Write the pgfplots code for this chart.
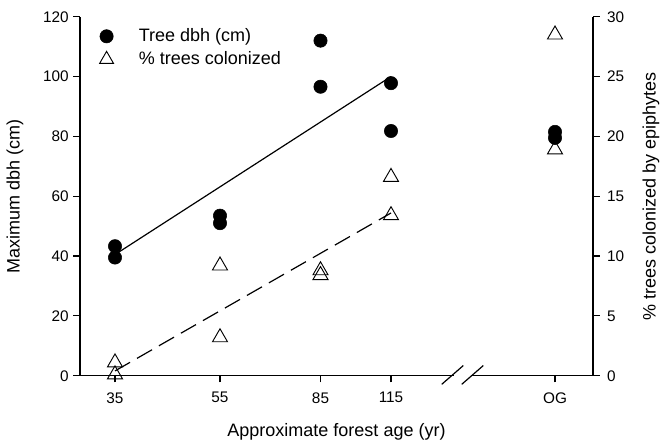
\documentclass[border=0pt]{standalone}
\usepackage{fontspec}
\setmainfont{Liberation Sans}
\usepackage{pgfplots}
\pgfplotsset{compat=1.18}

% x positions of the age classes on the drawn axis (35, 55, 85, 115, OG)
\pgfplotsset{
  base/.style={
    width=384.75pt, height=269.25pt, scale only axis,
    xmin=80, xmax=593,
    clip=false,
    tick align=outside,
    major tick length=5pt,
    every tick/.style={black, line width=0.9pt},
    axis line style={line width=1pt},
    /pgf/number format/assume math mode=true,
    tick label style={font=\fontsize{11.5}{13.8}\selectfont},
    label style={font=\fontsize{13.5}{16.2}\selectfont},
  },
}

\begin{document}
\begin{tikzpicture}
\begin{axis}[base,
  axis x line*=bottom, axis y line*=left,
  ymin=0, ymax=120,
  ytick={0,20,...,120},
  xtick={115,220,320.5,391,555},
  xticklabels={35,55,85,115,OG},
  xticklabel style={yshift=-4pt},
  ylabel={Maximum dbh (cm)},
  ylabel style={at={(axis description cs:-0.127,0.5)}, anchor=center},
  xlabel={Approximate forest age (yr)},
  xlabel style={at={(axis description cs:0.5,-0.156)}, anchor=center},
  legend style={at={(axis description cs:0.03,0.982)}, anchor=north west,
    draw=none, fill=none, row sep=2pt,
    font=\fontsize{13.5}{16.2}\selectfont,
    /tikz/every odd column/.append style={column sep=17pt}},
  legend cell align=left,
]
\addplot[only marks, mark=*, mark size=5pt, black] coordinates {
  (115,43.3) (115,39.5) (220,53.5) (220,51.0) (320.5,112.0) (320.5,96.6)
  (391,97.8) (391,81.8) (555,81.5) (555,79.5)};
\addlegendentry{Tree dbh (cm)}
\addlegendimage{only marks, mark=triangle, mark size=6pt, black, mark options={fill=white, line width=0.7pt}}
\addlegendentry{\% trees colonized}
\addplot[black, line width=0.9pt] coordinates {(115,40.5) (391,100)};
\end{axis}

\begin{axis}[base,
  axis x line=none, axis y line*=right,
  ymin=0, ymax=30,
  ytick={0,5,...,30},
  yticklabel style={xshift=2pt},
  ylabel={\% trees colonized by epiphytes},
  ylabel style={at={(axis description cs:1.113,0.5)}, anchor=center, rotate=0},
]
\addplot[black, line width=0.9pt, dash pattern=on 13pt off 6pt] coordinates {(115,0.4) (391,13.6)};
\addplot[only marks, mark=triangle, mark size=6.5pt, black, mark options={fill=white, line width=0.7pt}] coordinates {
  (115,1.1) (115,0.1) (220,9.2) (220,3.2) (320.5,8.8) (320.5,8.4)
  (391,16.6) (391,13.4) (555,28.5) (555,18.9)};
% axis break on the x axis
\draw[white, line width=3pt] (axis cs:454,0) -- (axis cs:472,0);
\draw[black, line width=0.9pt] (axis cs:441.7,-0.72) -- (axis cs:463.3,0.85);
\draw[black, line width=0.9pt] (axis cs:461.7,-0.72) -- (axis cs:483.3,0.85);
\end{axis}
\pgfresetboundingbox
\path (-60pt,-52pt) rectangle (435pt,281.8pt);
\end{tikzpicture}
\end{document}
